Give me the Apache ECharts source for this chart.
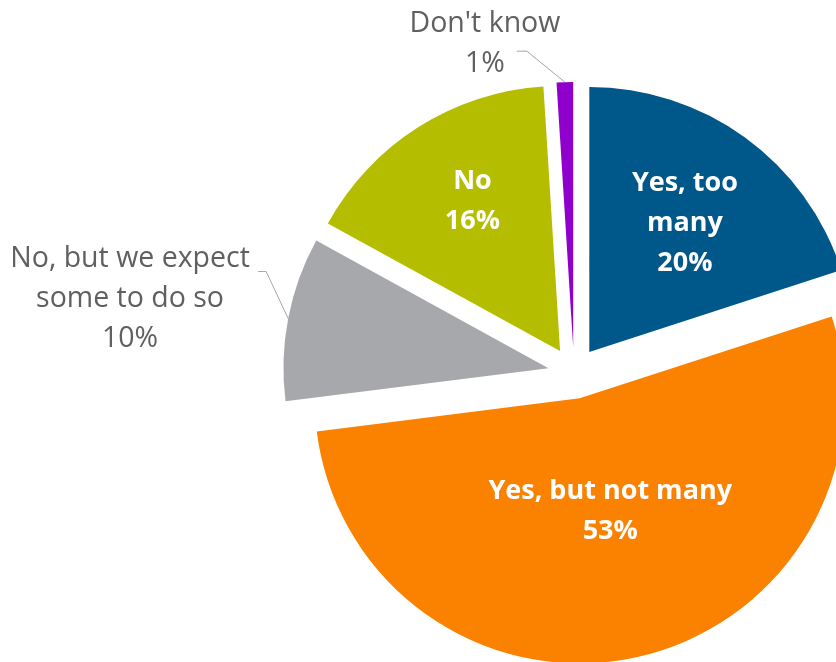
<!DOCTYPE html>
<html><head><meta charset="utf-8">
<script src="https://cdn.jsdelivr.net/npm/echarts@6/dist/echarts.min.js"></script>
<style>html,body{margin:0;padding:0;background:#fff}#c{width:836px;height:662px}</style>
</head><body><div id="c"></div>
<script>
const categories = ['Yes, too many', 'Yes, but not many', 'No, but we expect some to do so', 'No', "Don't know"];
const labelNames = ['Yes, too\nmany', 'Yes, but not many', 'No, but we expect\nsome to do so', 'No', "Don't know"];
const values = [20, 53, 10, 16, 1];
const colors = ['#00578A', '#FA8200', '#A7A8AB', '#B4BD00', '#8F00CC'];
const insideLabel = [true, true, false, true, false];
// shift of inside label centres from their default place [x, y]
const labelShift = [[16, -19], [1, -19], [0, 0], [-15, -35], [0, 0]];
// outside labels: label line length / length2 that place the text
const lineLen = [0, 0, [107, 48], 0, [38.6, 73.7]];
// drawn label guide: [bend dx, bend dy, horizontal length]
const guides = [null, null, [-22, -47, -8], null, [-38, -31, -10]];

const CX = 574, CY = 373, R = 265, OFF = 26, START = 90;
const total = values.reduce((a, b) => a + b, 0);
let acc = 0;
const mids = values.map(v => {
  const a0 = START - acc / total * 360;
  acc += v;
  const a1 = START - acc / total * 360;
  return (a0 + a1) / 2 * Math.PI / 180;
});

const data = values.map((v, i) => {
  const s = labelShift[i];
  return {
    name: categories[i],
    value: v,
    selected: true,
    itemStyle: { color: colors[i] },
    label: insideLabel[i] ? {
      position: 'inside', color: '#fff', fontWeight: 'bold', fontSize: 27,
      padding: [0, s[0] < 0 ? -2 * s[0] : 0, 0, s[0] > 0 ? 2 * s[0] : 0],
      rich: { sp: { fontSize: 1, lineHeight: Math.abs(2 * s[1]) } }
    } : {
      position: 'outside', color: '#606062', fontWeight: 'normal', fontSize: 28.5
    },
    labelLine: insideLabel[i] ? { show: false } : { show: true, length: lineLen[i][0], length2: lineLen[i][1] }
  };
});

const chart = echarts.init(document.getElementById('c'), null, { renderer: 'canvas' });
chart.setOption({
  animation: false,
  backgroundColor: '#fff',
  series: [{
    type: 'pie',
    center: [CX, CY],
    radius: R,
    startAngle: START,
    clockwise: true,
    selectedMode: 'multiple',
    selectedOffset: OFF,
    avoidLabelOverlap: false,
    silent: true,
    emphasis: { disabled: true },
    label: {
      formatter: p => {
        const i = p.dataIndex;
        const txt = labelNames[i] + '\n' + p.value + '%';
        const sy = labelShift[i][1];
        if (sy < 0) return txt + '\n{sp| }';
        if (sy > 0) return '{sp| }\n' + txt;
        return txt;
      },
      fontFamily: 'Open Sans',
      lineHeight: 40,
      align: 'center'
    },
    labelLine: {
      lineStyle: { color: '#A6A6A6', width: 1 }
    },
    labelLayout: function (params) {
      const g = guides[params.dataIndex];
      if (!g) return {};
      const m = mids[params.dataIndex];
      // points in the slice's own frame (the selected offset is added by the slice)
      const p0 = [CX + R * Math.cos(m), CY - R * Math.sin(m)];
      const bend = [p0[0] + g[0], p0[1] + g[1]];
      const end = [bend[0] + g[2], bend[1]];
      return { align: 'center', labelLinePoints: [p0, bend, end] };
    },
    data: data
  }]
});
</script>
</body></html>
